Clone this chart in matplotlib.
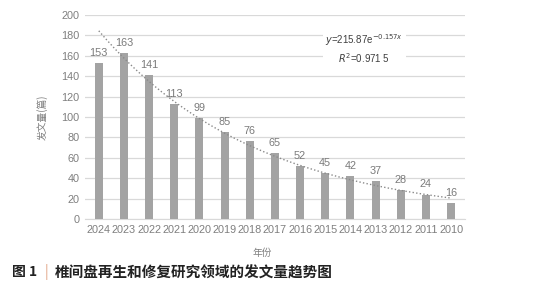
import numpy as np
import matplotlib
matplotlib.use("Agg")
import matplotlib.pyplot as plt

plt.rcParams['font.family'] = ['Liberation Sans', 'Noto Sans CJK SC', 'DejaVu Sans']

years = ["2024", "2023", "2022", "2021", "2020", "2019", "2018", "2017",
         "2016", "2015", "2014", "2013", "2012", "2011", "2010"]
counts = [153, 163, 141, 113, 99, 85, 76, 65, 52, 45, 42, 37, 28, 24, 16]
fit_a = 215.87
fit_b = -0.157
yticks = [0, 20, 40, 60, 80, 100, 120, 140, 160, 180, 200]

fig = plt.figure(figsize=(5.41, 3.0), dpi=100)
ax = fig.add_axes([0.157, 0.27, 0.7025, 0.68])

x = np.arange(len(years))
ax.bar(x, counts, width=0.32, color='#a3a3a3', zorder=3)
for xi, v in zip(x, counts):
    ax.text(xi, v + 5, str(v), ha='center', va='bottom', fontsize=7.8, color='#7a7a7a', zorder=4)

xs = np.linspace(1, len(years), 200)
ax.plot(xs - 1, fit_a * np.exp(fit_b * xs), linestyle=(0, (1, 1.6)), color='#8a8a8a', lw=1.0, zorder=4)

ax.set_xlim(-0.55, len(years) - 0.45)
ax.set_ylim(0, 200)
ax.set_yticks(yticks)
ax.set_xticks(x)
ax.set_xticklabels(years)
ax.yaxis.grid(True, color='#d9d9d9', lw=0.9, zorder=0)
for s in ['top', 'right', 'left']:
    ax.spines[s].set_visible(False)
ax.spines['bottom'].set_color('#d9d9d9')
ax.tick_params(axis='both', length=0, labelsize=7.8, colors='#7f7f7f', pad=4)

ax.text(0.735, 0.835, r"$\mathit{y}$=215.87e$^{-0.157x}$" + "\n" + r"$\mathit{R}^2$=0.971 5",
        transform=ax.transAxes, ha='center', va='center', fontsize=7, color='#404040',
        linespacing=1.3, zorder=5,
        bbox=dict(facecolor='white', edgecolor='none', pad=2))

fig.text(0.078, 0.61, "发文量(篇)", rotation=90, ha='center', va='center',
         fontsize=7, color='#7f7f7f', family=['Noto Sans CJK SC'])
fig.text(0.484, 0.157, "年份", ha='center', va='center', fontsize=7,
         color='#7f7f7f', family=['Noto Sans CJK SC'])

fig.text(0.022, 0.093, "图 1", ha='left', va='center', fontsize=10, color='#222222',
         fontweight='bold', family=['Noto Sans CJK SC'])
fig.text(0.083, 0.093, "|", ha='left', va='center', fontsize=10, color='#e0a080',
         family=['Noto Sans CJK SC'])
fig.text(0.102, 0.093, "椎间盘再生和修复研究领域的发文量趋势图", ha='left', va='center',
         fontsize=10.5, color='#222222', fontweight='bold', family=['Noto Sans CJK SC'])

fig.savefig("out.png", dpi=100)
